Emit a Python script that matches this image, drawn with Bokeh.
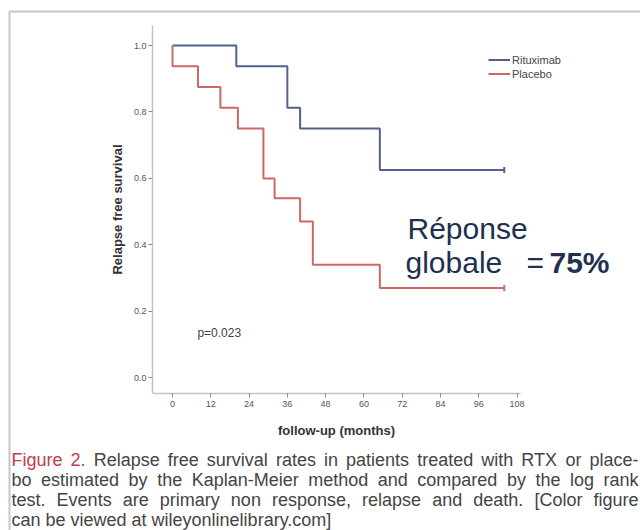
import math
from bokeh.plotting import figure
from bokeh.models import (Range1d, Label, Legend, LegendItem, BoxAnnotation,
                          FixedTicker, NumeralTickFormatter)
from bokeh.embed import file_html
from bokeh.resources import INLINE

# ---------------- data ----------------
month_ticks = [0, 12, 24, 36, 48, 60, 72, 84, 96, 108]
survival_ticks = [0.0, 0.2, 0.4, 0.6, 0.8, 1.0]

series_names = ["Rituximab", "Placebo"]
rtx_time = [0, 20, 36, 40, 65, 104]
rtx_surv = [1.0, 0.9375, 0.8125, 0.75, 0.625, 0.625]
placebo_time = [0, 0, 8, 15, 20.5, 28.5, 32, 40, 44, 65, 104]
placebo_surv = [1.0, 0.9375, 0.875, 0.8125, 0.75, 0.6, 0.54, 0.47, 0.34, 0.27, 0.27]

p_value_text = "p=0.023"
p_value_pos = (7.8, 0.135)
x_label = "follow-up (months)"
y_label = "Relapse free survival"
big_line1 = "Réponse"
big_line2 = ["globale", "=", "75%"]
caption_lines = [
    "Figure 2. Relapse free survival rates in patients treated with RTX or place-",
    "bo estimated by the Kaplan-Meier method and compared by the log rank",
    "test. Events are primary non response, relapse and death. [Color figure",
    "can be viewed at wileyonlinelibrary.com]",
]

# ---------------- styles / layout ----------------
BLUE = "#52608d"
RED = "#d06666"
NAVY = "#22304f"
CAP_RED = "#c23c4c"
CAP_GRAY = "#444444"
FONT = "Liberation Sans"
W, H = 640, 530

# pixel geometry of the chart area (canvas px)
X0_PX, PX_PER_MONTH = 172.0, 3.19      # month 0 position, scale
Y0_PX, PX_PER_UNIT = 377.3, 332.3      # survival 0 position, scale
AX_LEFT, AX_RIGHT, AX_TOP, AX_BOTTOM = 152, 520, 25, 393


def mx(px):
    return (px - X0_PX) / PX_PER_MONTH


def my(py):
    return (Y0_PX - py) / PX_PER_UNIT


def sx(px):
    return px


def sy(py):
    return H - py


p = figure(width=W, height=H, output_backend="svg", toolbar_location=None,
           x_range=Range1d(mx(0), mx(W)), y_range=Range1d(my(H), my(0)),
           min_border=0, min_border_left=0, min_border_right=0,
           min_border_top=0, min_border_bottom=0)
p.outline_line_color = None
p.xgrid.visible = False
p.ygrid.visible = False
p.background_fill_color = "white"
p.border_fill_color = "white"

for ax in (p.xaxis[0], p.yaxis[0]):
    ax.axis_line_color = "#c4c4c4"
    ax.axis_line_width = 1.5
    ax.major_tick_line_color = "#8a8a8a"
    ax.major_tick_in = 0
    ax.major_tick_out = 4
    ax.minor_tick_line_color = None
    ax.major_label_text_font = FONT
    ax.major_label_text_font_size = "9px"
    ax.major_label_text_color = "#555555"
    ax.axis_label_text_font = FONT
    ax.axis_label_text_font_style = "bold"
    ax.axis_label_text_font_size = "13px"
    ax.axis_label_text_color = "#333333"

p.xaxis.ticker = FixedTicker(ticks=month_ticks)
p.yaxis.ticker = FixedTicker(ticks=survival_ticks)
p.yaxis.formatter = NumeralTickFormatter(format="0.0")
p.xaxis.axis_label = x_label
p.yaxis.axis_label = y_label
p.xaxis.fixed_location = my(AX_BOTTOM)
p.yaxis.fixed_location = mx(AX_LEFT)
p.xaxis.bounds = (mx(AX_LEFT), mx(AX_RIGHT))
p.yaxis.bounds = (my(AX_BOTTOM), my(AX_TOP))
p.xaxis.major_label_standoff = 3
p.yaxis.major_label_standoff = 2
p.xaxis.axis_label_standoff = 13
p.yaxis.axis_label_standoff = 6

r_rtx = p.step(x=rtx_time, y=rtx_surv, mode="after", line_color=BLUE, line_width=2)
r_pla = p.step(x=placebo_time, y=placebo_surv, mode="after", line_color=RED, line_width=2)
p.scatter(x=[rtx_time[-1]], y=[rtx_surv[-1]], marker="dash", angle=math.pi / 2,
          size=6, line_color=BLUE, line_width=2)
p.scatter(x=[placebo_time[-1]], y=[placebo_surv[-1]], marker="dash", angle=math.pi / 2,
          size=6, line_color=RED, line_width=2)

legend = Legend(items=[LegendItem(label=series_names[0], renderers=[r_rtx]),
                       LegendItem(label=series_names[1], renderers=[r_pla])],
                location=(sx(488), sy(80)), orientation="vertical",
                glyph_width=22, glyph_height=13, label_height=13, spacing=1,
                padding=0, margin=0, label_standoff=2,
                label_text_font=FONT, label_text_font_size="11px",
                label_text_color="#444444",
                background_fill_alpha=0, border_line_color=None)
p.add_layout(legend)

p.add_layout(Label(x=p_value_pos[0], y=p_value_pos[1], text=p_value_text,
                   text_font=FONT, text_font_size="12px", text_color="#444444",
                   text_baseline="middle"))

# big annotation
p.add_layout(Label(x=sx(407), y=sy(228), x_units="screen", y_units="screen",
                   text=big_line1, text_font=FONT, text_font_size="30px",
                   text_color=NAVY, text_baseline="alphabetic"))
for txt, px, bold in zip(big_line2, [405, 526, 549], [False, False, True]):
    p.add_layout(Label(x=sx(px), y=sy(262), x_units="screen", y_units="screen",
                       text=txt, text_font=FONT, text_font_size="30px",
                       text_font_style="bold" if bold else "normal",
                       text_color=NAVY, text_baseline="alphabetic"))

# frame border
p.add_layout(BoxAnnotation(left=sx(9), right=sx(700), top=sy(11), bottom=sy(600),
                           left_units="screen", right_units="screen",
                           top_units="screen", bottom_units="screen",
                           fill_alpha=0, line_color="#3b4252", line_width=2))

# caption (justified like the reference)
AW = {' ': 278, 'a': 556, 'b': 556, 'c': 500, 'd': 556, 'e': 556, 'f': 278, 'g': 556,
      'h': 556, 'i': 222, 'j': 222, 'k': 500, 'l': 222, 'm': 833, 'n': 556, 'o': 556,
      'p': 556, 'q': 556, 'r': 333, 's': 500, 't': 278, 'u': 556, 'v': 500, 'w': 722,
      'x': 500, 'y': 500, 'z': 500, 'C': 722, 'E': 667, 'F': 611, 'K': 667, 'M': 833,
      'R': 722, 'T': 611, 'X': 667, '.': 278, ',': 278, '-': 333, '[': 278, ']': 278}
CAP_SIZE = 18


def tw(s):
    return sum(AW.get(ch, 556) for ch in s) / 1000 * CAP_SIZE


baselines = [459, 479, 499, 519]
x0, x1 = 11, 638
red_words = 2
word_index = 0
for li, line in enumerate(caption_lines):
    words = line.split(" ")
    widths = [tw(w) for w in words]
    if li < len(caption_lines) - 1:
        gap = (x1 - x0 - sum(widths)) / (len(words) - 1)
    else:
        gap = tw(" ")
    x = x0
    for w, wd in zip(words, widths):
        color = CAP_RED if word_index < red_words else CAP_GRAY
        p.add_layout(Label(x=sx(x), y=sy(baselines[li]), x_units="screen", y_units="screen",
                           text=w, text_font=FONT, text_font_size=f"{CAP_SIZE}px",
                           text_color=color, text_baseline="alphabetic"))
        x += wd + gap
        word_index += 1

open("out.html", "w").write(file_html(p, INLINE))
